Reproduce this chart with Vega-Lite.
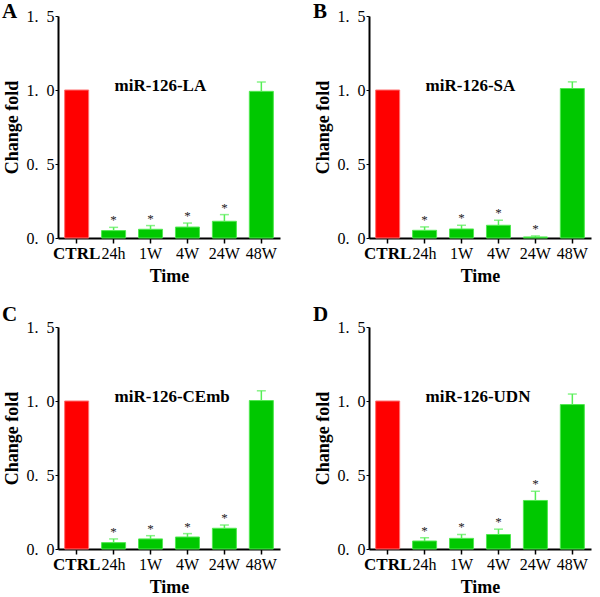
{
  "$schema": "https://vega.github.io/schema/vega-lite/v6.json",
  "padding": {"left": 2, "top": 1, "right": 2, "bottom": 1},
  "datasets": {
    "bars": [
      {"panel": "A", "time": "CTRL", "value": 1.0, "err": 1.0, "sig": ""},
      {"panel": "A", "time": "24h", "value": 0.05, "err": 0.072, "sig": "*"},
      {"panel": "A", "time": "1W", "value": 0.059, "err": 0.084, "sig": "*"},
      {"panel": "A", "time": "4W", "value": 0.074, "err": 0.101, "sig": "*"},
      {"panel": "A", "time": "24W", "value": 0.113, "err": 0.158, "sig": "*"},
      {"panel": "A", "time": "48W", "value": 0.991, "err": 1.054, "sig": ""},
      {"panel": "B", "time": "CTRL", "value": 1.0, "err": 1.0, "sig": ""},
      {"panel": "B", "time": "24h", "value": 0.052, "err": 0.075, "sig": "*"},
      {"panel": "B", "time": "1W", "value": 0.061, "err": 0.086, "sig": "*"},
      {"panel": "B", "time": "4W", "value": 0.086, "err": 0.12, "sig": "*"},
      {"panel": "B", "time": "24W", "value": 0.007, "err": 0.014, "sig": "*"},
      {"panel": "B", "time": "48W", "value": 1.01, "err": 1.055, "sig": ""},
      {"panel": "C", "time": "CTRL", "value": 1.0, "err": 1.0, "sig": ""},
      {"panel": "C", "time": "24h", "value": 0.043, "err": 0.068, "sig": "*"},
      {"panel": "C", "time": "1W", "value": 0.068, "err": 0.09, "sig": "*"},
      {"panel": "C", "time": "4W", "value": 0.081, "err": 0.104, "sig": "*"},
      {"panel": "C", "time": "24W", "value": 0.14, "err": 0.162, "sig": "*"},
      {"panel": "C", "time": "48W", "value": 1.003, "err": 1.069, "sig": ""},
      {"panel": "D", "time": "CTRL", "value": 1.0, "err": 1.0, "sig": ""},
      {"panel": "D", "time": "24h", "value": 0.054, "err": 0.076, "sig": "*"},
      {"panel": "D", "time": "1W", "value": 0.072, "err": 0.098, "sig": "*"},
      {"panel": "D", "time": "4W", "value": 0.098, "err": 0.134, "sig": "*"},
      {"panel": "D", "time": "24W", "value": 0.328, "err": 0.39, "sig": "*"},
      {"panel": "D", "time": "48W", "value": 0.976, "err": 1.047, "sig": ""}
    ],
    "labels": [
      {"panel": "A", "time": "24h", "name": "miR-126-LA", "pos": 1.03},
      {"panel": "B", "time": "24h", "name": "miR-126-SA", "pos": 1.03},
      {"panel": "C", "time": "24h", "name": "miR-126-CEmb", "pos": 1.03},
      {"panel": "D", "time": "24h", "name": "miR-126-UDN", "pos": 1.03}
    ]
  },
  "columns": 2,
  "spacing": {"row": 19, "column": 33},
  "concat": [
    {
      "title": {"text": "A"},
      "width": 222, "height": 222,
      "layer": [
        {"data": {"name": "bars"}, "transform": [{"filter": "datum.panel == 'A'"}],
         "mark": {"type": "bar", "strokeWidth": 1},
         "encoding": {
           "x": {"field": "time", "type": "nominal", "sort": ["CTRL", "24h", "1W", "4W", "24W", "48W"], "scale": {"paddingInner": 0.35, "paddingOuter": 0.18}, "title": "Time"},
           "y": {"field": "value", "type": "quantitative", "scale": {"domain": [0, 1.5], "nice": false}, "title": "Change fold", "axis": {"values": [0, 0.5, 1, 1.5], "labelExpr": "replace(format(datum.value, '.1f'), '.', '.\u2002')"}},
           "fill": {"condition": {"test": "datum.time == 'CTRL'", "value": "#FF0000"}, "value": "#00C800"},
           "stroke": {"condition": {"test": "datum.time == 'CTRL'", "value": "#FF7070"}, "value": "#50E850"}
         }},
        {"data": {"name": "bars"}, "transform": [{"filter": "datum.panel == 'A' && datum.time != 'CTRL'"}],
         "mark": {"type": "rule", "color": "#55EE55", "strokeWidth": 1.5},
         "encoding": {"x": {"field": "time", "type": "nominal", "sort": ["CTRL", "24h", "1W", "4W", "24W", "48W"]}, "y": {"field": "value", "type": "quantitative"}, "y2": {"field": "err"}}},
        {"data": {"name": "bars"}, "transform": [{"filter": "datum.panel == 'A' && datum.time != 'CTRL'"}],
         "mark": {"type": "tick", "color": "#55EE55", "size": 9, "thickness": 1.5},
         "encoding": {"x": {"field": "time", "type": "nominal", "sort": ["CTRL", "24h", "1W", "4W", "24W", "48W"]}, "y": {"field": "err", "type": "quantitative"}}},
        {"data": {"name": "bars"}, "transform": [{"filter": "datum.panel == 'A' && datum.sig == '*'"}],
         "mark": {"type": "text", "font": "Liberation Serif", "fontSize": 13, "color": "#222222", "baseline": "alphabetic", "dy": -3},
         "encoding": {"x": {"field": "time", "type": "nominal", "sort": ["CTRL", "24h", "1W", "4W", "24W", "48W"]}, "y": {"field": "err", "type": "quantitative"}, "text": {"field": "sig"}}},
        {"data": {"name": "labels"}, "transform": [{"filter": "datum.panel == 'A'"}],
         "mark": {"type": "text", "font": "Liberation Serif", "fontSize": 17, "fontWeight": "bold", "color": "black", "align": "left", "baseline": "middle", "dx": 1},
         "encoding": {"x": {"field": "time", "type": "nominal", "sort": ["CTRL", "24h", "1W", "4W", "24W", "48W"]}, "y": {"field": "pos", "type": "quantitative"}, "text": {"field": "name"}}}
      ]
    },
    {
      "title": {"text": "B"},
      "width": 222, "height": 222,
      "layer": [
        {"data": {"name": "bars"}, "transform": [{"filter": "datum.panel == 'B'"}],
         "mark": {"type": "bar", "strokeWidth": 1},
         "encoding": {
           "x": {"field": "time", "type": "nominal", "sort": ["CTRL", "24h", "1W", "4W", "24W", "48W"], "scale": {"paddingInner": 0.35, "paddingOuter": 0.18}, "title": "Time"},
           "y": {"field": "value", "type": "quantitative", "scale": {"domain": [0, 1.5], "nice": false}, "title": "Change fold", "axis": {"values": [0, 0.5, 1, 1.5], "labelExpr": "replace(format(datum.value, '.1f'), '.', '.\u2002')"}},
           "fill": {"condition": {"test": "datum.time == 'CTRL'", "value": "#FF0000"}, "value": "#00C800"},
           "stroke": {"condition": {"test": "datum.time == 'CTRL'", "value": "#FF7070"}, "value": "#50E850"}
         }},
        {"data": {"name": "bars"}, "transform": [{"filter": "datum.panel == 'B' && datum.time != 'CTRL'"}],
         "mark": {"type": "rule", "color": "#55EE55", "strokeWidth": 1.5},
         "encoding": {"x": {"field": "time", "type": "nominal", "sort": ["CTRL", "24h", "1W", "4W", "24W", "48W"]}, "y": {"field": "value", "type": "quantitative"}, "y2": {"field": "err"}}},
        {"data": {"name": "bars"}, "transform": [{"filter": "datum.panel == 'B' && datum.time != 'CTRL'"}],
         "mark": {"type": "tick", "color": "#55EE55", "size": 9, "thickness": 1.5},
         "encoding": {"x": {"field": "time", "type": "nominal", "sort": ["CTRL", "24h", "1W", "4W", "24W", "48W"]}, "y": {"field": "err", "type": "quantitative"}}},
        {"data": {"name": "bars"}, "transform": [{"filter": "datum.panel == 'B' && datum.sig == '*'"}],
         "mark": {"type": "text", "font": "Liberation Serif", "fontSize": 13, "color": "#222222", "baseline": "alphabetic", "dy": -3},
         "encoding": {"x": {"field": "time", "type": "nominal", "sort": ["CTRL", "24h", "1W", "4W", "24W", "48W"]}, "y": {"field": "err", "type": "quantitative"}, "text": {"field": "sig"}}},
        {"data": {"name": "labels"}, "transform": [{"filter": "datum.panel == 'B'"}],
         "mark": {"type": "text", "font": "Liberation Serif", "fontSize": 17, "fontWeight": "bold", "color": "black", "align": "left", "baseline": "middle", "dx": 1},
         "encoding": {"x": {"field": "time", "type": "nominal", "sort": ["CTRL", "24h", "1W", "4W", "24W", "48W"]}, "y": {"field": "pos", "type": "quantitative"}, "text": {"field": "name"}}}
      ]
    },
    {
      "title": {"text": "C", "offset": -6},
      "width": 222, "height": 222,
      "layer": [
        {"data": {"name": "bars"}, "transform": [{"filter": "datum.panel == 'C'"}],
         "mark": {"type": "bar", "strokeWidth": 1},
         "encoding": {
           "x": {"field": "time", "type": "nominal", "sort": ["CTRL", "24h", "1W", "4W", "24W", "48W"], "scale": {"paddingInner": 0.35, "paddingOuter": 0.18}, "title": "Time"},
           "y": {"field": "value", "type": "quantitative", "scale": {"domain": [0, 1.5], "nice": false}, "title": "Change fold", "axis": {"values": [0, 0.5, 1, 1.5], "labelExpr": "replace(format(datum.value, '.1f'), '.', '.\u2002')"}},
           "fill": {"condition": {"test": "datum.time == 'CTRL'", "value": "#FF0000"}, "value": "#00C800"},
           "stroke": {"condition": {"test": "datum.time == 'CTRL'", "value": "#FF7070"}, "value": "#50E850"}
         }},
        {"data": {"name": "bars"}, "transform": [{"filter": "datum.panel == 'C' && datum.time != 'CTRL'"}],
         "mark": {"type": "rule", "color": "#55EE55", "strokeWidth": 1.5},
         "encoding": {"x": {"field": "time", "type": "nominal", "sort": ["CTRL", "24h", "1W", "4W", "24W", "48W"]}, "y": {"field": "value", "type": "quantitative"}, "y2": {"field": "err"}}},
        {"data": {"name": "bars"}, "transform": [{"filter": "datum.panel == 'C' && datum.time != 'CTRL'"}],
         "mark": {"type": "tick", "color": "#55EE55", "size": 9, "thickness": 1.5},
         "encoding": {"x": {"field": "time", "type": "nominal", "sort": ["CTRL", "24h", "1W", "4W", "24W", "48W"]}, "y": {"field": "err", "type": "quantitative"}}},
        {"data": {"name": "bars"}, "transform": [{"filter": "datum.panel == 'C' && datum.sig == '*'"}],
         "mark": {"type": "text", "font": "Liberation Serif", "fontSize": 13, "color": "#222222", "baseline": "alphabetic", "dy": -3},
         "encoding": {"x": {"field": "time", "type": "nominal", "sort": ["CTRL", "24h", "1W", "4W", "24W", "48W"]}, "y": {"field": "err", "type": "quantitative"}, "text": {"field": "sig"}}},
        {"data": {"name": "labels"}, "transform": [{"filter": "datum.panel == 'C'"}],
         "mark": {"type": "text", "font": "Liberation Serif", "fontSize": 17, "fontWeight": "bold", "color": "black", "align": "left", "baseline": "middle", "dx": 1},
         "encoding": {"x": {"field": "time", "type": "nominal", "sort": ["CTRL", "24h", "1W", "4W", "24W", "48W"]}, "y": {"field": "pos", "type": "quantitative"}, "text": {"field": "name"}}}
      ]
    },
    {
      "title": {"text": "D", "offset": -6},
      "width": 222, "height": 222,
      "layer": [
        {"data": {"name": "bars"}, "transform": [{"filter": "datum.panel == 'D'"}],
         "mark": {"type": "bar", "strokeWidth": 1},
         "encoding": {
           "x": {"field": "time", "type": "nominal", "sort": ["CTRL", "24h", "1W", "4W", "24W", "48W"], "scale": {"paddingInner": 0.35, "paddingOuter": 0.18}, "title": "Time"},
           "y": {"field": "value", "type": "quantitative", "scale": {"domain": [0, 1.5], "nice": false}, "title": "Change fold", "axis": {"values": [0, 0.5, 1, 1.5], "labelExpr": "replace(format(datum.value, '.1f'), '.', '.\u2002')"}},
           "fill": {"condition": {"test": "datum.time == 'CTRL'", "value": "#FF0000"}, "value": "#00C800"},
           "stroke": {"condition": {"test": "datum.time == 'CTRL'", "value": "#FF7070"}, "value": "#50E850"}
         }},
        {"data": {"name": "bars"}, "transform": [{"filter": "datum.panel == 'D' && datum.time != 'CTRL'"}],
         "mark": {"type": "rule", "color": "#55EE55", "strokeWidth": 1.5},
         "encoding": {"x": {"field": "time", "type": "nominal", "sort": ["CTRL", "24h", "1W", "4W", "24W", "48W"]}, "y": {"field": "value", "type": "quantitative"}, "y2": {"field": "err"}}},
        {"data": {"name": "bars"}, "transform": [{"filter": "datum.panel == 'D' && datum.time != 'CTRL'"}],
         "mark": {"type": "tick", "color": "#55EE55", "size": 9, "thickness": 1.5},
         "encoding": {"x": {"field": "time", "type": "nominal", "sort": ["CTRL", "24h", "1W", "4W", "24W", "48W"]}, "y": {"field": "err", "type": "quantitative"}}},
        {"data": {"name": "bars"}, "transform": [{"filter": "datum.panel == 'D' && datum.sig == '*'"}],
         "mark": {"type": "text", "font": "Liberation Serif", "fontSize": 13, "color": "#222222", "baseline": "alphabetic", "dy": -3},
         "encoding": {"x": {"field": "time", "type": "nominal", "sort": ["CTRL", "24h", "1W", "4W", "24W", "48W"]}, "y": {"field": "err", "type": "quantitative"}, "text": {"field": "sig"}}},
        {"data": {"name": "labels"}, "transform": [{"filter": "datum.panel == 'D'"}],
         "mark": {"type": "text", "font": "Liberation Serif", "fontSize": 17, "fontWeight": "bold", "color": "black", "align": "left", "baseline": "middle", "dx": 1},
         "encoding": {"x": {"field": "time", "type": "nominal", "sort": ["CTRL", "24h", "1W", "4W", "24W", "48W"]}, "y": {"field": "pos", "type": "quantitative"}, "text": {"field": "name"}}}
      ]
    }
  ],
  "config": {
    "view": {"stroke": null},
    "title": {"font": "Liberation Serif", "fontSize": 21, "fontWeight": "bold", "color": "black", "anchor": "start", "frame": "bounds", "offset": -14, "dx": -1},
    "axis": {
      "grid": false, "domainColor": "black", "domainWidth": 2, "tickColor": "black", "tickWidth": 1.5, "tickSize": 5,
      "labelFont": "Liberation Serif", "labelFontSize": 16, "labelColor": "black",
      "titleFont": "Liberation Serif", "titleFontSize": 18, "titleFontWeight": "bold", "titleColor": "black"
    },
    "axisX": {
      "labelAngle": 0, "labelPadding": 2, "titlePadding": 6,
      "labelFontWeight": {"condition": {"test": "datum.value === 'CTRL'", "value": "bold"}, "value": "normal"},
      "labelFontSize": {"condition": {"test": "datum.value === 'CTRL'", "value": 17}, "value": 16}
    },
    "axisY": {"labelPadding": 1, "tickSize": 3, "tickWidth": 1, "titlePadding": 5}
  }
}
